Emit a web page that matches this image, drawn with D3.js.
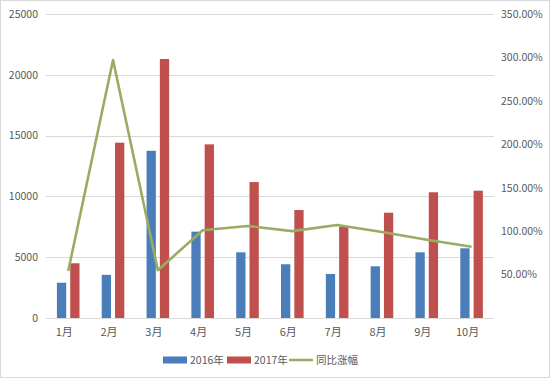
<!DOCTYPE html>
<html><head><meta charset="utf-8">
<script src="https://cdn.jsdelivr.net/npm/d3@7"></script>
<style>
body{margin:0;background:#fff;}
svg text{font-family:"Noto Sans CJK SC","Noto Sans",sans-serif;fill:#595959;}
</style></head>
<body><svg id="c" width="550" height="378"></svg>
<script>
const categories = ["1月","2月","3月","4月","5月","6月","7月","8月","9月","10月"];
const values2016 = [2900,3550,13750,7100,5400,4420,3620,4250,5400,5730];
const values2017 = [4500,14420,21300,14280,11180,8880,7510,8660,10340,10470];
const growth = [54,297,55,101,106,100,107,99,90,82];
const leftTicks = [0,5000,10000,15000,20000,25000];
const rightTicks = [50,100,150,200,250,300,350];
const seriesNames = ["2016年","2017年","同比涨幅"];
const colors = ["#4C7DBB","#C0504D","#98AD62"];

(function(){
const svg = d3.select("#c");
svg.append("rect").attr("x",0.5).attr("y",0.5).attr("width",549).attr("height",377)
  .attr("fill","#fff").attr("stroke","#d9d9d9");

const pLeft = 45.8, pRight = 494, pTop = 14, pBottom = 318;
const x = d3.scaleBand().domain(categories).range([pLeft,pRight]).padding(0);
const yL = d3.scaleLinear().domain([0,25000]).range([pBottom,pTop]);
const yR = d3.scaleLinear().domain([0,350]).range([pBottom,pTop]);

// gridlines
svg.append("g").selectAll("line").data(leftTicks).join("line")
  .attr("x1",pLeft).attr("x2",pRight)
  .attr("y1",d=>Math.round(yL(d))+0.5).attr("y2",d=>Math.round(yL(d))+0.5)
  .attr("stroke","#d9d9d9").attr("stroke-width",1);

// left axis labels
const axL = d3.axisLeft(yL).tickValues(leftTicks).tickSize(0).tickPadding(0).tickFormat(d=>d);
const gL = svg.append("g").attr("transform",`translate(38,0)`).call(axL);
gL.select(".domain").remove();
gL.selectAll("text").attr("font-size",10.5).attr("fill","#595959");

// right axis labels
const axR = d3.axisRight(yR).tickValues(rightTicks).tickSize(0).tickPadding(0).tickFormat(d=>d.toFixed(2)+"%");
const gR = svg.append("g").attr("transform",`translate(501,0)`).call(axR);
gR.select(".domain").remove();
gR.selectAll("text").attr("font-size",10.5).attr("fill","#595959");

// bottom axis labels
const axB = d3.axisBottom(x).tickSize(0).tickPadding(0);
const gB = svg.append("g").attr("transform",`translate(-4,${pBottom+10})`).call(axB);
gB.select(".domain").remove();
gB.selectAll("text").attr("font-size",11).attr("fill","#595959");

// bars
const bw = 9.3, gap = 4;
const c = d => x(d) + x.bandwidth()/2;
svg.append("g").selectAll("rect").data(categories).join("rect")
  .attr("x",(d)=>c(d)-gap/2-bw).attr("width",bw)
  .attr("y",(d,i)=>yL(values2016[i])).attr("height",(d,i)=>pBottom-yL(values2016[i]))
  .attr("fill",colors[0]);
svg.append("g").selectAll("rect").data(categories).join("rect")
  .attr("x",(d)=>c(d)+gap/2).attr("width",bw)
  .attr("y",(d,i)=>yL(values2017[i])).attr("height",(d,i)=>pBottom-yL(values2017[i]))
  .attr("fill",colors[1]);

// line
const line = d3.line().x((d,i)=>c(categories[i])).y(d=>yR(d));
svg.append("path").datum(growth).attr("d",line).attr("fill","none")
  .attr("stroke",colors[2]).attr("stroke-width",2.6).attr("stroke-linejoin","round");

// legend
const lg = svg.append("g").attr("transform","translate(0,360)");
lg.append("rect").attr("x",163).attr("y",-3.5).attr("width",24).attr("height",7).attr("fill",colors[0]);
lg.append("text").attr("x",190).attr("y",4).attr("font-size",10.5).text(seriesNames[0]);
lg.append("rect").attr("x",227).attr("y",-3.5).attr("width",24).attr("height",7).attr("fill",colors[1]);
lg.append("text").attr("x",254).attr("y",4).attr("font-size",10.5).text(seriesNames[1]);
lg.append("line").attr("x1",289).attr("x2",313).attr("y1",0).attr("y2",0).attr("stroke",colors[2]).attr("stroke-width",2.5);
lg.append("text").attr("x",316).attr("y",4).attr("font-size",10.5).text(seriesNames[2]);
})();
</script></body></html>
